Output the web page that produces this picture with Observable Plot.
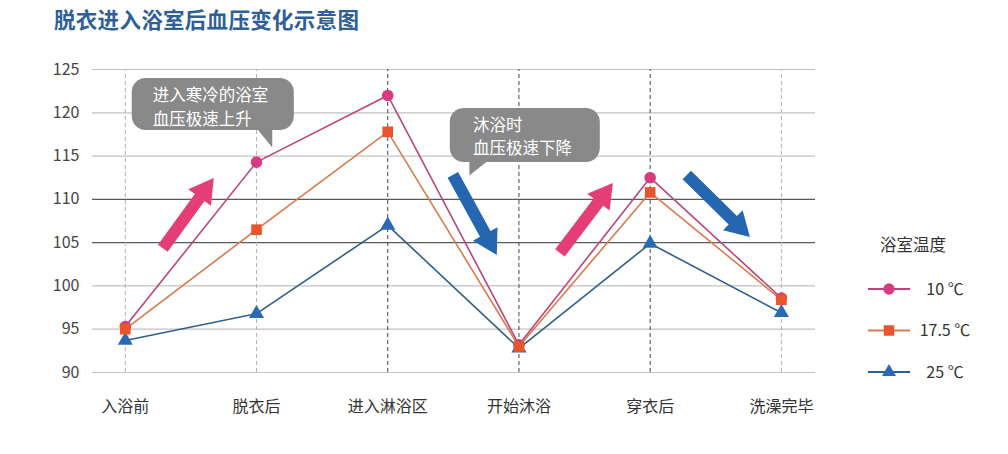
<!DOCTYPE html>
<html><head><meta charset="utf-8">
<script src="https://cdn.jsdelivr.net/npm/d3@7"></script>
<script src="https://cdn.jsdelivr.net/npm/@observablehq/plot@0.6"></script>
<style>
body{margin:0;background:#fff;font-family:"Noto Sans CJK SC","Noto Sans",sans-serif;}
#wrap{position:relative;width:1008px;height:454px;overflow:hidden;background:#fff}
#chart{position:absolute;left:0;top:0}
#title{position:absolute;left:54px;top:3px;font-size:21.5px;font-weight:bold;color:#2f5f96;letter-spacing:0.3px}
#legend{position:absolute;left:856px;top:228px}
</style></head><body>
<div id="wrap"><div id="chart"></div><div id="title">脱衣进入浴室后血压变化示意图</div><div id="legend"></div></div>
<script>
// ---- data ----
const categories = ["入浴前","脱衣后","进入淋浴区","开始沐浴","穿衣后","洗澡完毕"];
const seriesNames = ["10 ℃","17.5 ℃","25 ℃"];
const bp10  = [95.3, 114.3, 122.0, 93.2, 112.5, 98.6];
const bp175 = [95.0, 106.5, 117.8, 93.0, 110.8, 98.4];
const bp25  = [93.7, 96.8, 107.0, 92.8, 104.9, 96.9];
const yTicks = [90, 95, 100, 105, 110, 115, 120, 125];
const legendTitle = "浴室温度";
const calloutTexts = ["进入寒冷的浴室\n血压极速上升", "沐浴时\n血压极速下降"];

// ---- annotation placement (in data units: x = category index, y = mmHg) ----
const calloutBoxes = [
  {x1: 0.053, x2: 1.288, y1: 117.95, y2: 123.96, tx: 0.21, ty: 120.85},
  {x1: 2.477, x2: 3.62,  y1: 114.26, y2: 120.5,  tx: 2.65, ty: 117.4}
];
const calloutTails = [
  {id: 0, x: 1.006, y: 118.1}, {id: 0, x: 1.12, y: 118.1}, {id: 0, x: 1.12, y: 115.99},
  {id: 1, x: 2.622, y: 114.4}, {id: 1, x: 2.759, y: 114.4}, {id: 1, x: 2.622, y: 112.76}
];
const arrowsData = [
  {x1: 0.29, y1: 104.3, x2: 0.678, y2: 112.4, kind: "up"},
  {x1: 2.5,  y1: 112.76, x2: 2.835, y2: 103.52, kind: "down"},
  {x1: 3.316, y1: 103.75, x2: 3.72, y2: 111.83, kind: "up"},
  {x1: 4.283, y1: 112.76, x2: 4.764, y2: 105.59, kind: "down"}
];

// ---- styles ----
const lineColors = ["#b8467c", "#d97a4e", "#2e5f8a"];
const markColors = ["#d83c80", "#e8542c", "#2a6ab5"];
const arrowColors = {up: "#e33e75", down: "#2566b0"};

const rows = [];
[bp10, bp175, bp25].forEach((arr, s) => arr.forEach((v, i) => rows.push({series: seriesNames[s], s, i, v})));
const idx = categories.map((_, i) => i);

function bigArrow(index, scales, values) {
  const g = d3.create("svg:g");
  for (const i of index) {
    const ax = values.x1[i], ay = values.y1[i], bx = values.x2[i], by = values.y2[i];
    const dx = bx - ax, dy = by - ay, L = Math.hypot(dx, dy);
    const ux = dx / L, uy = dy / L, nx = -uy, ny = ux;
    const sw = 6, hw = 14, hl = 24;
    const hx = bx - ux * hl, hy = by - uy * hl;
    const pts = [
      [ax + nx * sw, ay + ny * sw], [hx + nx * sw, hy + ny * sw], [hx + nx * hw, hy + ny * hw],
      [bx, by], [hx - nx * hw, hy - ny * hw], [hx - nx * sw, hy - ny * sw], [ax - nx * sw, ay - ny * sw]
    ];
    g.append("path").attr("d", "M" + pts.map(p => p.join(",")).join("L") + "Z")
      .attr("fill", arrowColors[arrowsData[i].kind]);
  }
  return g.node();
}

const chart = Plot.plot({
  width: 1008, height: 454,
  marginTop: 69, marginBottom: 82, marginLeft: 92, marginRight: 193,
  x: {domain: [-0.25, 5.26]},
  y: {domain: [90, 125]},
  style: {fontFamily: '"Noto Sans CJK SC", sans-serif', fontSize: "16px", background: "transparent", color: "#333"},
  marks: [
    Plot.ruleY(yTicks, {stroke: d => (d === 105 || d === 110) ? "#5a5a5a" : "#c2c2c2", strokeWidth: 1.2}),
    Plot.ruleX(idx, {x: d => d, y1: 90, y2: 125, stroke: d => (d >= 2 && d <= 4) ? "#444" : "#b9b0b6", strokeDasharray: "4,3", strokeWidth: 1}),
    Plot.axisY({ticks: yTicks, tickSize: 0, tickPadding: 13, fontSize: 16, fill: "#444"}),
    Plot.axisX({ticks: idx, tickFormat: i => categories[i], tickSize: 0, tickPadding: 28, fontSize: 16, fill: "#333"}),
    Plot.rect(calloutBoxes, {x1: "x1", x2: "x2", y1: "y1", y2: "y2", fill: "#898989", rx: 14}),
    Plot.line(calloutTails, {x: "x", y: "y", z: "id", fill: "#898989", stroke: "none"}),
    Plot.text(calloutBoxes, {x: "tx", y: "ty", text: (d, i) => calloutTexts[i], textAnchor: "start", lineAnchor: "middle", fill: "white", fontSize: 16.5, lineHeight: 1.42}),
    Plot.arrow(arrowsData, {x1: "x1", y1: "y1", x2: "x2", y2: "y2", render: bigArrow}),
    Plot.line(rows, {x: "i", y: "v", z: "series", stroke: d => lineColors[d.s], strokeWidth: 1.6}),
    Plot.dot(rows.filter(d => d.s === 0), {x: "i", y: "v", symbol: "circle", r: 5.8, fill: markColors[0], stroke: "none"}),
    Plot.dot(rows.filter(d => d.s === 2), {x: "i", y: "v", symbol: "triangle", r: 5.6, fill: markColors[2], stroke: "none"}),
    Plot.dot(rows.filter(d => d.s === 1), {x: "i", y: "v", symbol: "square", r: 6.0, fill: markColors[1], stroke: "none"})
  ]
});
document.getElementById("chart").appendChild(chart);

// ---- legend ----
const lg = d3.select("#legend").append("svg").attr("width", 150).attr("height", 160)
  .style("font-family", '"Noto Sans CJK SC", sans-serif');
lg.append("text").attr("x", 24).attr("y", 17).attr("dy", "0.35em").attr("font-size", 16.5).attr("fill", "#333").text(legendTitle);
const sym = [d3.symbolCircle, d3.symbolSquare, d3.symbolTriangle];
const symSize = [100, 110, 85];
seriesNames.forEach((name, s) => {
  const yy = 61 + s * 41.5;
  lg.append("line").attr("x1", 12).attr("x2", 54).attr("y1", yy).attr("y2", yy).attr("stroke", lineColors[s]).attr("stroke-width", 2);
  lg.append("path").attr("d", d3.symbol(sym[s], symSize[s])()).attr("transform", `translate(33,${yy})`).attr("fill", markColors[s]);
  lg.append("text").attr("x", 89).attr("y", yy).attr("dy", "0.35em").attr("text-anchor", "middle").attr("font-size", 16).attr("fill", "#333").text(name);
});
</script>
</body></html>
